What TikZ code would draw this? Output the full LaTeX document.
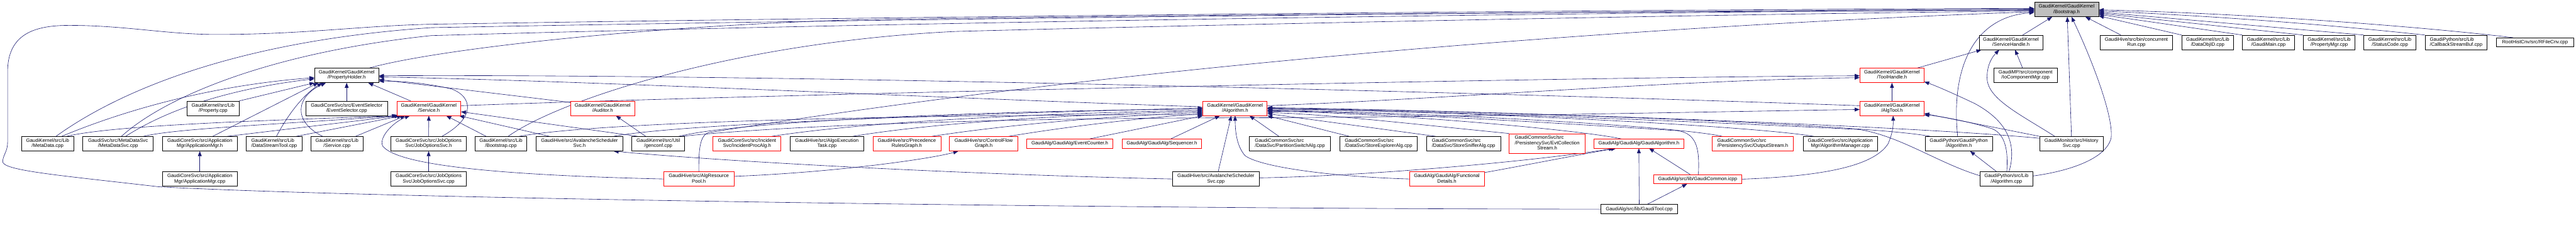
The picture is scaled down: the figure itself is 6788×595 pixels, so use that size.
\documentclass[tikz,border=0pt]{standalone}
\usepackage{fontspec}
\newfontfamily\dxfont{Liberation Sans}
\usetikzlibrary{arrows.meta}
\pgfdeclarelayer{bg}\pgfdeclarelayer{edges}\pgfsetlayers{bg,edges,main}
\definecolor{dxedge}{RGB}{25,25,112}
\definecolor{dxred}{RGB}{255,0,0}
\definecolor{dxgray}{RGB}{191,191,191}
\newcommand\DxTwo[2]{\begin{tabular}{@{}l@{}}#1\\\multicolumn{1}{@{}c@{}}{#2}\end{tabular}}
\newcommand\DxThree[3]{\begin{tabular}{@{}l@{}}#1\\#2\\\multicolumn{1}{@{}c@{}}{#3}\end{tabular}}
\begin{document}
\begin{tikzpicture}[x=1pt,y=-1pt,
 nb/.style={rectangle,draw=black,fill=white,line width=1.2pt,inner sep=0pt,font=\dxfont\fontsize{12.9pt}{14pt}\selectfont,minimum height=38pt},
 rb/.style={nb,draw=dxred},
 gb/.style={nb,fill=dxgray},
 one/.style={minimum height=24pt},
 dep/.style={draw=dxedge,line width=1pt,-{Triangle[length=13pt,width=10pt]}}]
\begin{pgfonlayer}{bg}
\fill[white] (0,0) rectangle (6788,595);
\end{pgfonlayer}
\useasboundingbox (0,0) rectangle (6788,595);
% row 0
\node[gb,minimum width=169pt] (bootH) at (5445.5,25) {\DxTwo{GaudiKernel/GaudiKernel}{/Bootstrap.h}};
% row 1
\node[nb,minimum width=168pt] (svcHandle) at (5299,112) {\DxTwo{GaudiKernel/GaudiKernel}{/ServiceHandle.h}};
\node[nb,minimum width=191pt] (concRun) at (5629.5,112) {\DxTwo{GaudiHive/src/bin/concurrent}{Run.cpp}};
\node[nb,minimum width=137pt] (dataObjID) at (5817.5,112) {\DxTwo{GaudiKernel/src/Lib}{/DataObjID.cpp}};
\node[nb,minimum width=137pt] (gaudiMain) at (5977.5,112) {\DxTwo{GaudiKernel/src/Lib}{/GaudiMain.cpp}};
\node[nb,minimum width=137pt] (propMgr) at (6137.5,112) {\DxTwo{GaudiKernel/src/Lib}{/PropertyMgr.cpp}};
\node[nb,minimum width=137pt] (statusCode) at (6297.5,112) {\DxTwo{GaudiKernel/src/Lib}{/StatusCode.cpp}};
\node[nb,minimum width=164pt] (callbackSB) at (6472,112) {\DxTwo{GaudiPython/src/Lib}{/CallbackStreamBuf.cpp}};
\node[nb,one,minimum width=204pt] (rfileCnv) at (6680,112) {RootHistCnv/src/RFileCnv.cpp};
% row 2
\node[nb,minimum width=169pt] (propHolder) at (913.5,199) {\DxTwo{GaudiKernel/GaudiKernel}{/PropertyHolder.h}};
\node[rb,minimum width=169pt] (toolHandle) at (4985.5,199) {\DxTwo{GaudiKernel/GaudiKernel}{/ToolHandle.h}};
\node[nb,minimum width=167pt] (ioCompMgr) at (5337.5,199) {\DxTwo{GaudiMP/src/component}{/IoComponentMgr.cpp}};
% row 3
\node[nb,minimum width=137pt] (propertyCpp) at (561.5,286) {\DxTwo{GaudiKernel/src/Lib}{/Property.cpp}};
\node[nb,minimum width=215pt] (evtSel) at (913.5,286) {\DxTwo{GaudiCoreSvc/src/EventSelector}{/EventSelector.cpp}};
\node[rb,minimum width=168pt] (serviceH) at (1130,286) {\DxTwo{GaudiKernel/GaudiKernel}{/Service.h}};
\node[rb,minimum width=168pt] (auditorH) at (1588,286) {\DxTwo{GaudiKernel/GaudiKernel}{/Auditor.h}};
\node[rb,minimum width=169pt] (algorithmH) at (3254.5,286) {\DxTwo{GaudiKernel/GaudiKernel}{/Algorithm.h}};
\node[rb,minimum width=169pt] (algToolH) at (4985.5,286) {\DxTwo{GaudiKernel/GaudiKernel}{/AlgTool.h}};
% row 4
\node[nb,minimum width=137pt] (metaData) at (125.5,379.5) {\DxTwo{GaudiKernel/src/Lib}{/MetaData.cpp}};
\node[nb,minimum width=186pt] (metaDataSvc) at (311,379.5) {\DxTwo{GaudiSvc/src/MetaDataSvc}{/MetaDataSvc.cpp}};
\node[nb,minimum width=197pt] (appMgrH) at (526.5,379.5) {\DxTwo{GaudiCoreSvc/src/Application}{Mgr/ApplicationMgr.h}};
\node[nb,minimum width=147pt] (dataStreamTool) at (722.5,379.5) {\DxTwo{GaudiKernel/src/Lib}{/DataStreamTool.cpp}};
\node[nb,minimum width=136pt] (serviceCpp) at (888,379.5) {\DxTwo{GaudiKernel/src/Lib}{/Service.cpp}};
\node[nb,minimum width=199pt] (jobOptH) at (1129.5,379.5) {\DxTwo{GaudiCoreSvc/src/JobOptions}{Svc/JobOptionsSvc.h}};
\node[nb,minimum width=136pt] (bootstrapCpp) at (1320,379.5) {\DxTwo{GaudiKernel/src/Lib}{/Bootstrap.cpp}};
\node[nb,minimum width=228pt] (avSchedH) at (1527,379.5) {\DxTwo{GaudiHive/src/AvalancheScheduler}{Svc.h}};
\node[nb,minimum width=139pt] (genconf) at (1734.5,379.5) {\DxTwo{GaudiKernel/src/Util}{/genconf.cpp}};
\node[rb,minimum width=179pt] (incProcAlg) at (1968.5,379.5) {\DxTwo{GaudiCoreSvc/src/Incident}{Svc/IncidentProcAlg.h}};
\node[nb,minimum width=194pt] (algoExecTask) at (2179,379.5) {\DxTwo{GaudiHive/src/AlgoExecution}{Task.cpp}};
\node[rb,minimum width=179pt] (precRules) at (2389.5,379.5) {\DxTwo{GaudiHive/src/Precedence}{RulesGraph.h}};
\node[rb,minimum width=180pt] (cfGraph) at (2592,379.5) {\DxTwo{GaudiHive/src/ControlFlow}{Graph.h}};
\node[rb,one,minimum width=228pt] (evtCounter) at (2819,379) {GaudiAlg/GaudiAlg/EventCounter.h};
\node[rb,one,minimum width=209pt] (sequencer) at (3061.5,379) {GaudiAlg/GaudiAlg/Sequencer.h};
\node[nb,minimum width=214pt] (partSwitch) at (3399,379.5) {\DxTwo{GaudiCommonSvc/src}{/DataSvc/PartitionSwitchAlg.cpp}};
\node[nb,minimum width=205pt] (storeExpl) at (3632.5,379.5) {\DxTwo{GaudiCommonSvc/src}{/DataSvc/StoreExplorerAlg.cpp}};
\node[nb,minimum width=195pt] (storeSniff) at (3856.5,379.5) {\DxTwo{GaudiCommonSvc/src}{/DataSvc/StoreSnifferAlg.cpp}};
\node[rb,minimum width=200pt,minimum height=52pt] (evtColl) at (4077,379) {\DxThree{GaudiCommonSvc/src}{/PersistencySvc/EvtCollection}{Stream.h}};
\node[rb,one,minimum width=237pt] (gaudiAlgH) at (4318.5,379) {GaudiAlg/GaudiAlg/GaudiAlgorithm.h};
\node[rb,minimum width=215pt] (outStream) at (4618.5,379.5) {\DxTwo{GaudiCommonSvc/src}{/PersistencySvc/OutputStream.h}};
\node[nb,minimum width=197pt] (algMgrCpp) at (4849.5,379.5) {\DxTwo{GaudiCoreSvc/src/Application}{Mgr/AlgorithmManager.cpp}};
\node[nb,minimum width=177pt] (gpAlgH) at (5161.5,379.5) {\DxTwo{GaudiPython/GaudiPython}{/Algorithm.h}};
\node[nb,minimum width=167pt] (historySvc) at (5458.5,379.5) {\DxTwo{GaudiMonitor/src/History}{Svc.cpp}};
% row 5
\node[nb,minimum width=197pt] (appMgrCpp) at (526.5,472.5) {\DxTwo{GaudiCoreSvc/src/Application}{Mgr/ApplicationMgr.cpp}};
\node[nb,minimum width=199pt] (jobOptCpp) at (1129.5,472.5) {\DxTwo{GaudiCoreSvc/src/JobOptions}{Svc/JobOptionsSvc.cpp}};
\node[rb,minimum width=185pt] (algResPool) at (1841.5,472.5) {\DxTwo{GaudiHive/src/AlgResource}{Pool.h}};
\node[nb,minimum width=228pt] (avSchedCpp) at (3204,472.5) {\DxTwo{GaudiHive/src/AvalancheScheduler}{Svc.cpp}};
\node[rb,minimum width=197pt] (funcDetails) at (3812.5,472.5) {\DxTwo{GaudiAlg/GaudiAlg/Functional}{Details.h}};
\node[rb,one,minimum width=233pt] (gaudiCommon) at (4473.5,473) {GaudiAlg/src/lib/GaudiCommon.icpp};
\node[nb,minimum width=140pt] (gpAlgCpp) at (5287,472.5) {\DxTwo{GaudiPython/src/Lib}{/Algorithm.cpp}};
% row 6
\node[nb,one,minimum width=203pt] (gaudiTool) at (4319.5,552) {GaudiAlg/src/lib/GaudiTool.cpp};

\begin{pgfonlayer}{edges}
% --- into Bootstrap.h
\draw[dep] ([xshift=22pt]metaData.north) .. controls (300,250) and (600,110) .. (1136,73) .. controls (2600,45) and (4600,27) .. ([yshift=1pt]bootH.west);
\draw[dep] ([xshift=9pt]metaDataSvc.north) .. controls (430,260) and (700,140) .. (1136,94) .. controls (2600,52) and (4600,29) .. ([yshift=-1pt]bootH.west);
\draw[dep] (gaudiTool.west) .. controls (3000,552) and (1000,525) .. (418,493) .. controls (150,462) and (2,450) .. (7,425) .. controls (10,405) and (20,400) .. (20,375) -- (20,190) .. controls (20,90) and (90,67) .. (182,67) .. controls (330,67) and (440,91) .. (570,91) .. controls (800,91) and (950,68) .. (1136,64) .. controls (2600,40) and (4600,24) .. ([yshift=3pt]bootH.west);
\draw[dep] ([xshift=60pt]propHolder.north) .. controls (1150,130) and (1700,68) .. (2268,52) .. controls (3400,35) and (4600,30) .. ([yshift=-2pt]bootH.west);
\draw[dep] ([xshift=19pt]bootstrapCpp.north) .. controls (1480,260) and (1950,110) .. (2519,83) .. controls (3200,65) and (4600,36) .. ([yshift=-4pt]bootH.west);
\draw[dep] (algResPool.north) .. controls (1841,400) and (1843,356) .. (1868,350) .. controls (3065,158) and (4400,66) .. ([yshift=-6pt]bootH.west);
\draw[dep] ([xshift=-3pt]gpAlgH.north) .. controls (5140,180) and (5200,45) .. ([yshift=-8pt]bootH.west);
\draw[dep] ([xshift=-41pt]concRun.north) -- ([xshift=50pt]bootH.south);
\draw[dep] (dataObjID.north west) -- ([yshift=-17pt]bootH.east);
\draw[dep] (gaudiMain.north west) -- ([yshift=-13pt]bootH.east);
\draw[dep] (propMgr.north west) -- ([yshift=-10pt]bootH.east);
\draw[dep] (statusCode.north west) -- ([yshift=-7pt]bootH.east);
\draw[dep] (callbackSB.north west) .. controls (6200,72) and (5900,45) .. ([yshift=-4pt]bootH.east);
\draw[dep] ([xshift=-58pt]rfileCnv.north) .. controls (6450,78) and (6000,38) .. ([yshift=-1pt]bootH.east);
\draw[dep] ([xshift=31pt]svcHandle.north) -- ([xshift=-38pt]bootH.south);
\draw[dep] (historySvc.north) -- ([xshift=2pt]bootH.south);
\draw[dep] ([yshift=8pt]gpAlgCpp.east) .. controls (5450,452) and (5550,420) .. (5563,364) .. controls (5570,300) and (5500,130) .. ([xshift=13pt]bootH.south);
% --- into ServiceHandle.h
\draw[dep] ([xshift=67pt]toolHandle.north) -- ([xshift=-78pt]svcHandle.south);
\draw[dep] ([xshift=-8pt]ioCompMgr.north) -- ([xshift=11pt]svcHandle.south);
\draw[dep] ([xshift=-44pt]historySvc.north) .. controls (5320,300) and (5236,260) .. (5236,205) .. controls (5236,170) and (5250,150) .. ([xshift=-31pt]svcHandle.south);
% --- into ToolHandle.h
\draw[dep] (algToolH.north) -- (toolHandle.south);
\draw[dep] ([xshift=7pt]gpAlgCpp.north) .. controls (5315,380) and (5290,320) .. (5203,273) .. controls (5150,248) and (5105,228) .. ([yshift=3pt]toolHandle.south east);
\draw[dep] ([yshift=7pt]algorithmH.east) .. controls (3800,262) and (4400,212) .. ([yshift=-6pt]toolHandle.west);
\draw[dep] ([yshift=7pt]serviceH.east) .. controls (2000,250) and (4000,205) .. ([yshift=-1pt]toolHandle.west);
% --- into PropertyHolder.h
\draw[dep] ([xshift=37pt]metaData.north) .. controls (330,290) and (560,225) .. ([yshift=-6pt]propHolder.west);
\draw[dep] ([xshift=20pt]metaDataSvc.north) .. controls (440,290) and (600,235) .. ([yshift=-9pt]propHolder.west);
\draw[dep] ([xshift=34pt]appMgrH.north) -- ([xshift=-75pt]propHolder.south);
\draw[dep] (propertyCpp.north east) -- (propHolder.south west);
\draw[dep] ([xshift=6pt]dataStreamTool.north) .. controls (760,300) and (800,250) .. ([xshift=-65pt]propHolder.south);
\draw[dep] ([xshift=-38pt]serviceCpp.north) .. controls (770,320) and (780,255) .. ([xshift=-55pt]propHolder.south);
\draw[dep] (evtSel.north) -- (propHolder.south);
\draw[dep] ([xshift=-48pt]serviceH.north) -- ([xshift=57pt]propHolder.south);
\draw[dep] ([xshift=35pt]jobOptH.north) .. controls (1255,310) and (1245,255) .. (1190,235) .. controls (1120,218) and (1050,214) .. ([yshift=-15pt]propHolder.east);
\draw[dep] ([yshift=-4pt]auditorH.north west) -- ([yshift=-11pt]propHolder.east);
\draw[dep] ([yshift=4pt]algorithmH.west) .. controls (2500,260) and (1600,215) .. ([yshift=-4pt]propHolder.east);
\draw[dep] ([yshift=7pt]algToolH.west) .. controls (3800,240) and (2000,195) .. ([yshift=-1pt]propHolder.east);
% --- into Service.h
\draw[dep] ([xshift=50pt]metaData.north) .. controls (300,330) and (700,318) .. (serviceH.south west);
\draw[dep] ([xshift=67pt]metaDataSvc.north) .. controls (460,340) and (700,330) .. ([xshift=4pt]serviceH.south west);
\draw[dep] ([xshift=72pt]appMgrH.north) -- ([xshift=8pt]serviceH.south west);
\draw[dep] ([xshift=58pt]dataStreamTool.north) -- ([xshift=14pt]serviceH.south west);
\draw[dep] ([xshift=49pt]serviceCpp.north) -- ([xshift=-62pt]serviceH.south);
\draw[dep] (jobOptH.north) -- (serviceH.south);
\draw[dep] (algResPool.west) .. controls (1300,462) and (1045,435) .. (1008,385) .. controls (998,360) and (1040,320) .. ([xshift=-50pt]serviceH.south);
\draw[dep] ([xshift=-39pt]bootstrapCpp.north) -- ([xshift=46pt]serviceH.south);
\draw[dep] ([xshift=-79pt]avSchedH.north) -- ([xshift=80pt]serviceH.south);
\draw[dep] ([xshift=-54pt]genconf.north) -- ([yshift=-9pt]serviceH.east);
% --- into Auditor.h
\draw[dep] ([xshift=-33pt]genconf.north) -- ([xshift=35pt]auditorH.south);
% --- into Algorithm.h (left / below)
\draw[dep] ([xshift=54pt]genconf.north) .. controls (1950,320) and (2600,292) .. ([yshift=-2pt]algorithmH.west);
\draw[dep] ([xshift=65pt]incProcAlg.north) .. controls (2300,318) and (2800,298) .. ([yshift=-5pt]algorithmH.west);
\draw[dep] ([xshift=68pt]algoExecTask.north) .. controls (2500,318) and (2900,300) .. ([yshift=-8pt]algorithmH.west);
\draw[dep] ([xshift=66pt]precRules.north) .. controls (2700,322) and (3000,303) .. ([yshift=-11pt]algorithmH.west);
\draw[dep] ([xshift=66pt]cfGraph.north) .. controls (2850,328) and (3050,308) .. ([yshift=-14pt]algorithmH.west);
\draw[dep] ([xshift=53pt]evtCounter.north) -- (algorithmH.south west);
\draw[dep] ([xshift=24pt]sequencer.north) -- ([xshift=-40pt]algorithmH.south);
\draw[dep] ([xshift=90pt]avSchedH.north) .. controls (1800,325) and (2600,300) .. ([yshift=1pt]algorithmH.west);
\draw[dep] ([xshift=48pt]bootstrapCpp.north) .. controls (1600,318) and (2500,302) .. ([yshift=-17pt]algorithmH.west);
\draw[dep] ([xshift=6pt]avSchedCpp.north) -- ([xshift=-10pt]algorithmH.south);
\draw[dep] (funcDetails.west) .. controls (3500,466) and (3320,440) .. (3281,411) .. controls (3258,385) and (3255,345) .. (algorithmH.south);
\draw[dep] ([xshift=-29pt]partSwitch.north) -- ([xshift=38pt]algorithmH.south);
\draw[dep] ([xshift=-77pt]storeExpl.north) -- (algorithmH.south east);
% --- into Algorithm.h (right)
\draw[dep] ([xshift=-73pt]storeSniff.north) -- ([yshift=-14pt]algorithmH.east);
\draw[dep] (evtColl.north west) .. controls (3700,325) and (3500,302) .. ([yshift=-11pt]algorithmH.east);
\draw[dep] ([xshift=-47pt]gaudiAlgH.north) .. controls (4150,340) and (3600,295) .. ([yshift=-8pt]algorithmH.east);
\draw[dep] ([xshift=-80pt]outStream.north) .. controls (4400,330) and (3700,295) .. ([yshift=-5pt]algorithmH.east);
\draw[dep] ([xshift=-70pt]algMgrCpp.north) .. controls (4600,330) and (3800,292) .. ([yshift=-2pt]algorithmH.east);
\draw[dep] ([xshift=2pt]gaudiCommon.north) .. controls (4478,400) and (4475,352) .. (4420,345) .. controls (4000,318) and (3600,296) .. ([yshift=-6pt]algorithmH.east);
\draw[dep] ([xshift=-75pt]gpAlgH.north) .. controls (4900,325) and (3800,290) .. (algorithmH.east);
\draw[dep] ([yshift=-5pt]historySvc.north west) .. controls (5000,330) and (3900,292) .. ([yshift=2pt]algorithmH.east);
\draw[dep] ([yshift=9pt]gpAlgCpp.west) .. controls (5110,432) and (5010,360) .. (4900,342) .. controls (4300,312) and (3700,292) .. ([yshift=-1pt]algorithmH.east);
% --- into AlgTool.h
\draw[dep] ([xshift=62pt]genconf.north) .. controls (2100,328) and (2700,312) .. (3250,311) .. controls (3800,310) and (4500,295) .. ([yshift=-3pt]algToolH.west);
\draw[dep] (gaudiCommon.east) .. controls (4800,465) and (4935,440) .. (4975,380) .. controls (4988,350) and (4989,330) .. ([xshift=3pt]algToolH.south);
\draw[dep] (historySvc.north west) -- ([yshift=6pt]algToolH.south east);
\draw[dep] ([xshift=1pt]gpAlgCpp.north) .. controls (5292,400) and (5285,355) .. (5250,340) .. controls (5180,318) and (5100,305) .. ([yshift=2pt]algToolH.south east);
% --- into GaudiAlgorithm.h
\draw[dep] (gaudiTool.north) -- (gaudiAlgH.south);
\draw[dep] ([xshift=-20pt]gaudiCommon.north) -- ([xshift=27pt]gaudiAlgH.south);
\draw[dep] ([yshift=17pt]funcDetails.east) .. controls (4000,440) and (4150,410) .. ([xshift=-60pt]gaudiAlgH.south);
\draw[dep] ([yshift=3pt]avSchedCpp.east) .. controls (3600,465) and (4050,425) .. ([xshift=-66pt]gaudiAlgH.south);
% --- others
\draw[dep] ([xshift=21pt]gaudiTool.north) -- ([xshift=-28pt]gaudiCommon.south);
\draw[dep] (avSchedCpp.west) .. controls (2600,462) and (1950,430) .. ([xshift=90pt]avSchedH.south);
\draw[dep] ([yshift=7pt]algResPool.east) .. controls (2200,455) and (2450,420) .. ([xshift=-67pt]cfGraph.south);
\draw[dep] (appMgrCpp.north) -- (appMgrH.south);
\draw[dep] (jobOptCpp.north) -- (jobOptH.south);
\draw[dep] ([xshift=-26pt]gpAlgCpp.north) -- ([xshift=30pt]gpAlgH.south);
\end{pgfonlayer}
\end{tikzpicture}
\end{document}
